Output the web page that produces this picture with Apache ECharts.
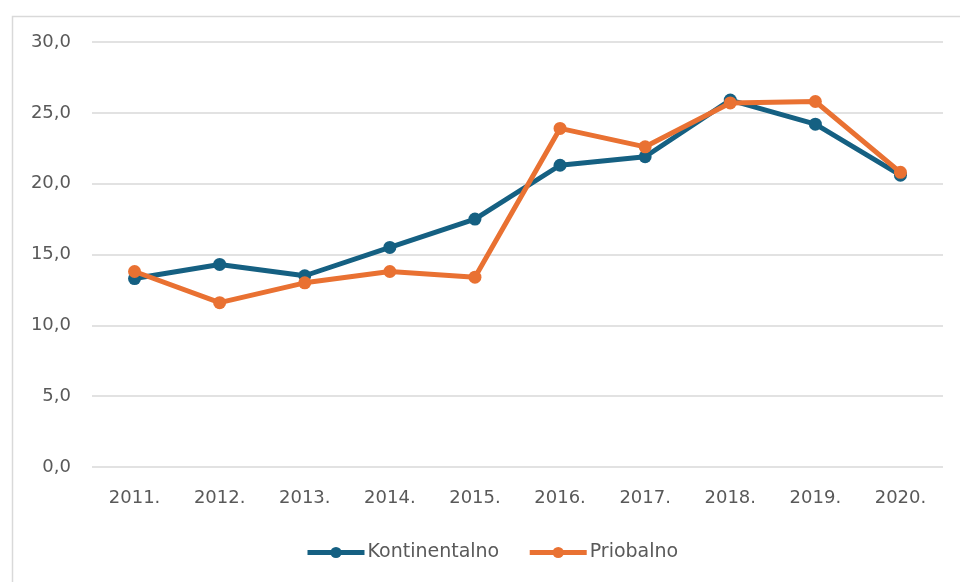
<!DOCTYPE html>
<html>
<head>
<meta charset="utf-8">
<script src="https://cdn.jsdelivr.net/npm/echarts@6/dist/echarts.min.js"></script>
<style>
  html, body { margin: 0; padding: 0; background: #fff; }
  #chart { width: 960px; height: 582px; }
</style>
</head>
<body>
<div id="chart"></div>
<script>
const years = ['2011.', '2012.', '2013.', '2014.', '2015.', '2016.', '2017.', '2018.', '2019.', '2020.'];
const kontinentalno = [13.3, 14.3, 13.5, 15.5, 17.5, 21.3, 21.9, 25.9, 24.2, 20.6];
const priobalno = [13.8, 11.6, 13.0, 13.8, 13.4, 23.9, 22.6, 25.7, 25.8, 20.8];

const chart = echarts.init(document.getElementById('chart'));

const font = 'DejaVu Sans';
const textColor = '#595959';

chart.setOption({
  animation: false,
  color: ['#156082', '#E97132'],
  graphic: [{
    type: 'rect',
    left: 10, top: 14,
    shape: { width: 980, height: 600 },
    style: { fill: 'none', stroke: '#d9d9d9', lineWidth: 1.5 },
    silent: true
  }],
  grid: { left: 92, right: 17, top: 42, bottom: 115 },
  legend: {
    top: 538,
    left: 300,
    itemWidth: 57,
    itemHeight: 14,
    itemGap: 28,
    lineStyle: { width: 5 },
    textStyle: { color: textColor, fontFamily: font, fontSize: 19, padding: [0, 0, 0, -2] },
    data: ['Kontinentalno', 'Priobalno']
  },
  xAxis: {
    type: 'category',
    data: years,
    boundaryGap: true,
    axisLine: { show: false },
    axisTick: { show: false },
    axisLabel: { color: textColor, fontFamily: font, fontSize: 18, margin: 22 }
  },
  yAxis: {
    type: 'value',
    min: 0, max: 30, interval: 5,
    axisLine: { show: false },
    axisTick: { show: false },
    splitLine: { lineStyle: { color: '#d9d9d9', width: 1.5 } },
    axisLabel: {
      color: textColor, fontFamily: font, fontSize: 18, margin: 21,
      formatter: v => v.toFixed(1).replace('.', ',')
    }
  },
  series: [
    {
      name: 'Kontinentalno',
      type: 'line',
      data: kontinentalno,
      symbol: 'circle',
      symbolSize: 13,
      lineStyle: { width: 5 },
      z: 2
    },
    {
      name: 'Priobalno',
      type: 'line',
      data: priobalno,
      symbol: 'circle',
      symbolSize: 13,
      lineStyle: { width: 5 },
      z: 3
    }
  ]
});
</script>
</body>
</html>
